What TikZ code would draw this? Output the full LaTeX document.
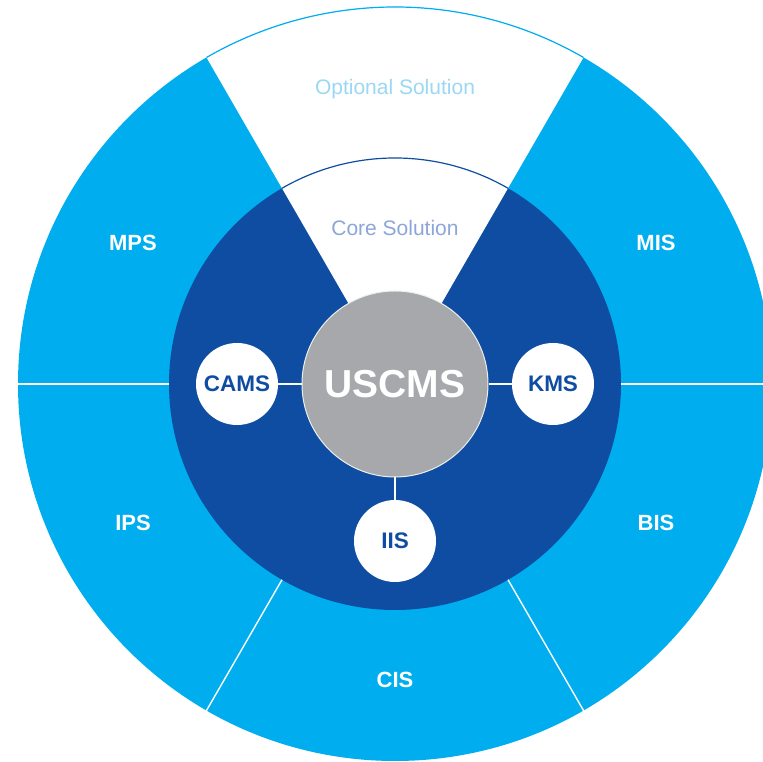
\documentclass[tikz,border=0pt]{standalone}
\usepackage{fontspec}
\setmainfont{Liberation Sans}
\definecolor{ringblue}{HTML}{00AEEF}
\definecolor{coreblue}{HTML}{0E4DA1}
\definecolor{hubgrey}{HTML}{A6A8AB}
\definecolor{corelabel}{HTML}{8CA6D9}
\definecolor{optlabel}{HTML}{9BD8F4}
\tikzset{
  ringlabel/.style={text=white, font=\fontsize{22}{22}\selectfont\bfseries, inner sep=0pt},
  satellite/.style={circle, fill=white, minimum size=82pt, inner sep=0pt, text=coreblue, font=\fontsize{22.5}{22.5}\selectfont\bfseries},
  hub/.style={circle, fill=hubgrey, draw=white!80!hubgrey, line width=1pt, minimum size=186pt, inner sep=0pt, text=white, font=\fontsize{39}{39}\selectfont\bfseries},
  conn/.style={white, line width=1.4pt},
  divider/.style={white, line width=1.4pt},
  zonelabel/.style={font=\fontsize{21}{21}\selectfont, inner sep=0pt}
}
\begin{document}
\begin{tikzpicture}[x=1pt,y=1pt]
\useasboundingbox (0,0) rectangle (763,762);
\clip (0,0) rectangle (763,762);
\fill[white] (0,0) rectangle (763,762);
\coordinate (c) at (395,378);
% outer ring and core disc
\fill[ringblue] (c) circle (377);
\fill[coreblue] (c) circle (226);
% white wedge
\fill[white] (c) -- ++(60:377) arc (60:120:377) -- cycle;
\draw[ringblue, line width=1.2pt] (c) ++(60:377) arc (60:120:377);
\draw[coreblue, line width=1.2pt] (c) ++(60:226) arc (60:120:226);
% sector dividers
\foreach \a in {0,180,240,300}{
  \draw[divider] (c) ++(\a:226) -- ++(\a:160);
}
% zone labels
\node[zonelabel, text=optlabel] (opt) at (395,673) {Optional Solution};
\node[zonelabel, text=corelabel] (core) at (395,534) {Core Solution};
% ring labels
\node[ringlabel] (mps) at (133,519) {MPS};
\node[ringlabel] (mis) at (656,519) {MIS};
\node[ringlabel] (ips) at (133,239) {IPS};
\node[ringlabel] (bis) at (656,239) {BIS};
\node[ringlabel] (cis) at (395,82) {CIS};
% hub and satellites
\node[hub] (uscms) at (c) {USCMS};
\node[satellite] (cams) at (237,378) {CAMS};
\node[satellite] (kms) at (553,378) {KMS};
\node[satellite] (iis) at (395,221) {IIS};
\draw[conn] (cams) -- (uscms);
\draw[conn] (uscms) -- (kms);
\draw[conn] (uscms) -- (iis);
\end{tikzpicture}
\end{document}
